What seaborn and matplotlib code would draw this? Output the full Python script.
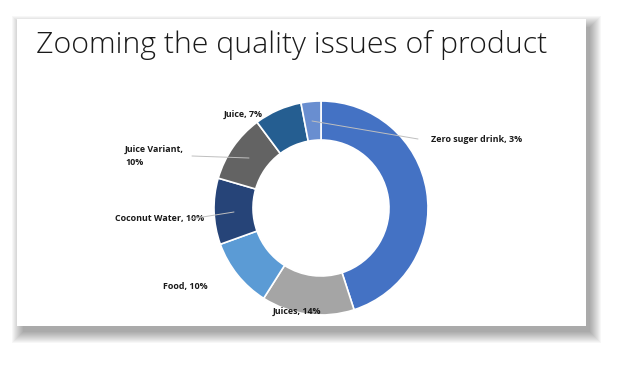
import matplotlib
matplotlib.use("Agg")
import matplotlib.pyplot as plt
import seaborn as sns
from matplotlib.patches import Rectangle

# Data (clockwise from 12 o'clock); slice sizes as measured, labels as printed
categories = ["Other", "Juices", "Food", "Coconut Water", "Juice Variant", "Juice", "Zero suger drink"]
shares = [45, 14, 10.5, 10, 10.3, 7.2, 3]
pct_labels = ["", "14%", "10%", "10%", "10%", "7%", "3%"]
colors = ["#4472C4", "#A5A5A5", "#5B9BD5", "#264478", "#636363", "#255E91", "#698ED0"]
title = "Zooming the quality issues of product"

sns.set_style("white")
plt.rcParams['font.family'] = ['Open Sans', 'DejaVu Sans']

fig = plt.figure(figsize=(6.24, 3.65), dpi=100)
ax = fig.add_axes([0, 0, 1, 1])

# slide shadow (mostly right / bottom)
sx, sy, sw, sh = 17, 19, 569, 307
for i in range(12, 0, -1):
    ax.add_patch(Rectangle((sx + 7 - i, sy + 9 - i), sw + 2 * i - 4, sh + 2 * i - 4,
                           facecolor="black", edgecolor="none", alpha=0.03, zorder=0))
ax.add_patch(Rectangle((sx, sy), sw, sh, facecolor="white", edgecolor="none", zorder=1))

ax.text(36, 45, title, fontsize=21.8, fontweight="light", color="#1a1a1a",
        va="center", ha="left", zorder=3)

# donut (y axis is flipped, so data-counterclockwise reads clockwise)
cx, cy, r = 321, 208, 107
wedges, _ = ax.pie(shares, colors=colors, startangle=-90, counterclock=True,
                   center=(cx, cy), radius=r, frame=True,
                   wedgeprops=dict(width=39, edgecolor="white", linewidth=1.2))
for w in wedges:
    w.set_zorder(2)
ax.set_xlim(0, 624)
ax.set_ylim(365, 0)
ax.set_aspect("equal")
ax.axis("off")

lab = dict(fontsize=6.4, fontweight="bold", color="#1a1a1a", va="center", zorder=3)
ax.text(431, 139, f"{categories[6]}, {pct_labels[6]}", ha="left", **lab)
ax.text(224, 114, f"{categories[5]}, {pct_labels[5]}", ha="left", **lab)
ax.text(125, 156, f"{categories[4]},\n{pct_labels[4]}", ha="left", linespacing=1.5, **lab)
ax.text(115, 219, f"{categories[3]}, {pct_labels[3]}", ha="left", **lab)
ax.text(163, 286, f"{categories[2]}, {pct_labels[2]}", ha="left", **lab)
ax.text(273, 311, f"{categories[1]}, {pct_labels[1]}", ha="left", **lab)

# leader lines
line = dict(color="#BFBFBF", linewidth=0.7, zorder=3)
ax.plot([312, 418], [121, 139], **line)
ax.plot([192, 249], [156, 158], **line)
ax.plot([190, 234], [219, 212], **line)

fig.savefig("out.png", dpi=100)
